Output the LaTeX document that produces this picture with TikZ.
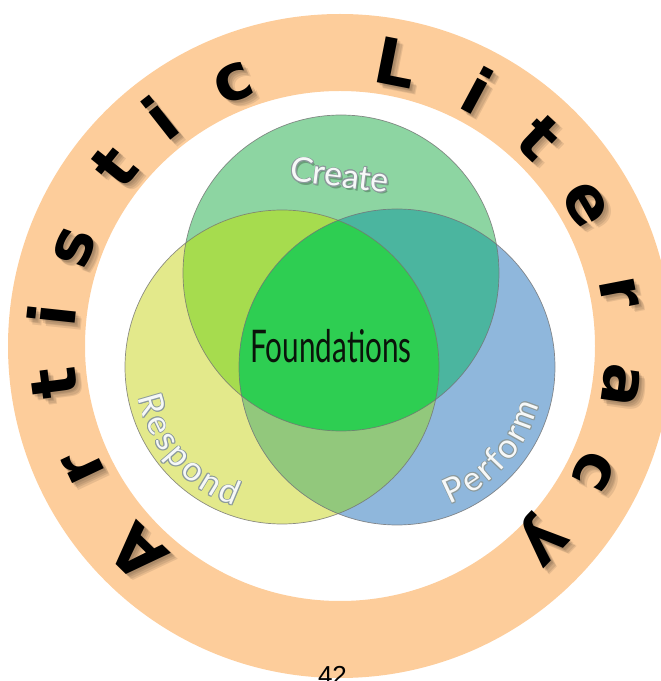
\documentclass[tikz,border=0pt]{standalone}
\usepackage{fontspec}
\setmainfont{Lato}
\newfontfamily\ringfont{DejaVu Sans}
\newfontfamily\numfont{Liberation Sans}
\usepackage[copies]{contour}
\usetikzlibrary{decorations.text}
\definecolor{ringc}{HTML}{FDCD9B}
\definecolor{creC}{HTML}{8DD5A2}
\definecolor{resC}{HTML}{E3E98B}
\definecolor{perC}{HTML}{8FB7DC}
\definecolor{crC}{HTML}{A6DC4E}
\definecolor{cpC}{HTML}{4BB59F}
\definecolor{rpC}{HTML}{92C87C}
\definecolor{allC}{HTML}{2ECE52}
\definecolor{lblline}{HTML}{8C9A9C}
\definecolor{lblfill}{HTML}{F6F8F8}
\definecolor{fndtext}{HTML}{0A140A}
\newcommand\lblsize{\fontsize{34}{36}\selectfont}
\newcommand\arclabel[5]{%
  \foreach \dx/\dy in {0.8/0,-0.8/0,0/0.8,0/-0.8,0.6/0.6,-0.6/0.6,0.6/-0.6,-0.6/-0.6}{%
    \path[decorate, decoration={text along path, text={|\lblsize|#5}, text align=fit to path, text color=lblline}]
      ([shift={(#3:#2)},xshift=\dx pt,yshift=\dy pt]#1) arc[start angle=#3, end angle=#4, radius=#2];}%
  \path[decorate, decoration={text along path, text={|\lblsize|#5}, text align=fit to path, text color=lblfill}]
      ([shift={(#3:#2)}]#1) arc[start angle=#3, end angle=#4, radius=#2];}
\tikzset{
  ringlet/.style={font=\ringfont\bfseries\fontsize{64}{64}\selectfont, anchor=base, inner sep=0pt},
  vennline/.style={draw=black!55, line width=0.7pt, draw opacity=0.8},
  lbl/.style={font=\lblsize, text=lblfill, inner sep=0pt},
}
\begin{document}
\begin{tikzpicture}[x=1pt,y=1pt]
\useasboundingbox (0,0) rectangle (661,681);
\clip (0,0) rectangle (661,681);
\coordinate (ring) at (340,335);
\coordinate (cre) at (341,408);
\coordinate (res) at (282,314);
\coordinate (per) at (397,314);
% ring
\fill[ringc, even odd rule] (ring) circle (332) (ring) circle (255);
% venn fills
\fill[creC] (cre) circle (158);
\fill[resC] (res) circle (157);
\fill[perC] (per) circle (158);
\begin{scope}\clip (cre) circle (158); \fill[crC] (res) circle (157); \end{scope}
\begin{scope}\clip (cre) circle (158); \fill[cpC] (per) circle (158); \end{scope}
\begin{scope}\clip (res) circle (157); \fill[rpC] (per) circle (158); \end{scope}
\begin{scope}\clip (cre) circle (158); \clip (res) circle (157); \fill[allC] (per) circle (158); \end{scope}
\draw[vennline] (cre) circle (158);
\draw[vennline] (res) circle (157);
\draw[vennline] (per) circle (158);
% ring letters: shadows
\foreach \a/\l in {225.6/A,205.3/r,187.4/t,173.9/i,159.6/s,141.4/t,128.2/i,112/c,78.9/L,61.8/i,46.3/t,30/e,10.9/r,-8/a,-26.3/c,-43.9/y}{
  \foreach \o in {2,3.5,5,6.5}{
    \node[ringlet, text=black, opacity=0.09, rotate=\a-90] at ([shift={(\a:266)},xshift=\o pt,yshift=-\o pt]ring) {\l};}
}
\foreach \a/\l [count=\i] in {225.6/A,205.3/r,187.4/t,173.9/i,159.6/s,141.4/t,128.2/i,112/c,78.9/L,61.8/i,46.3/t,30/e,10.9/r,-8/a,-26.3/c,-43.9/y}{
  \node[ringlet, text=black, rotate=\a-90] (rl\i) at ([shift={(\a:266)}]ring) {\l};
}
% labels
\node[lbl, text=black, opacity=0.25, rotate=-7] at (342,504) {Create};
\node[lbl, rotate=-7] (crelbl) at (340,506) {\contourlength{0.7pt}\contour{lblline}{Create}};
\arclabel{res}{147}{192}{251}{Respond}
\arclabel{per}{147}{-69}{-15}{Perform}
% center
\node[font=\fontsize{45}{48}\selectfont, text=fndtext, inner sep=0pt] (fnd) at (331,335) {\scalebox{0.66}[1]{Foundations}};
% page number
\node[font=\numfont\fontsize{26}{28}\selectfont, anchor=base, inner sep=0pt] (pg) at (332.5,-4) {42};
\end{tikzpicture}
\end{document}
